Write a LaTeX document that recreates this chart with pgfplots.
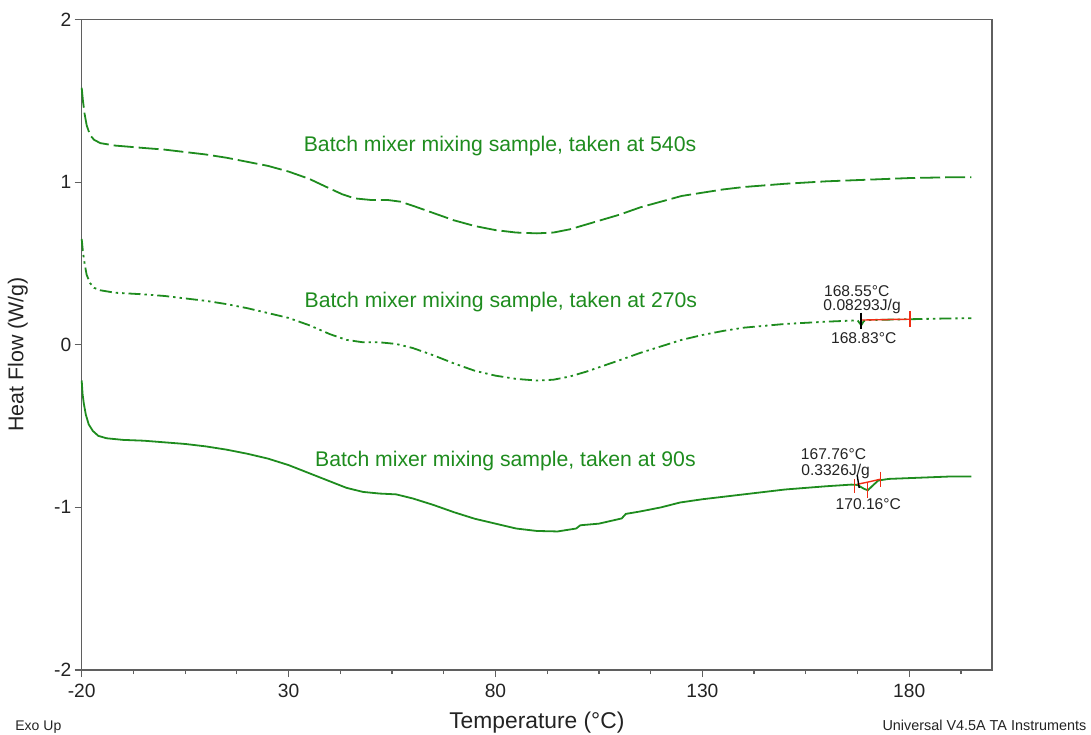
\documentclass[border=0pt]{standalone}
\usepackage{fontspec}
\setmainfont{Liberation Sans}
\usepackage{pgfplots}
\pgfplotsset{compat=1.18}
\definecolor{dscgreen}{RGB}{30,140,30}
\definecolor{axgray}{RGB}{95,95,95}
\definecolor{txt}{RGB}{35,35,35}
\definecolor{tared}{RGB}{240,45,20}
\begin{document}
\begin{tikzpicture}
\useasboundingbox (0,0) rectangle (545.5pt,367pt);
\begin{axis}[
  at={(40.85pt,32pt)}, anchor=south west,
  width=455.15pt, height=325.25pt, scale only axis,
  xmin=-20, xmax=200, ymin=-2, ymax=2,
  xtick={-20,30,80,130,180}, xticklabels={-20,30,80,130,180},
  minor xtick={-7.5,5,17.5,42.5,55,67.5,92.5,105,117.5,142.5,155,167.5,192.5},
  ytick={-2,-1,0,1,2}, yticklabels={-2,-1,0,1,2},
  xtick pos=left, ytick pos=left,
  tick align=outside, major tick length=3.5pt, minor tick length=2pt,
  axis line style={axgray, line width=0.6pt},
  every tick/.style={axgray, line width=0.6pt},
  ticklabel style={font=\fontsize{9.6}{11}\selectfont, text=txt},
  xticklabel style={anchor=base, yshift=-10pt},
  yticklabel style={inner sep=1.5pt},
  xlabel={Temperature (°C)}, ylabel={Heat Flow (W/g)},
  xlabel style={font=\fontsize{11.4}{13}\selectfont, text=txt, at={(axis description cs:0.5,0)}, anchor=base, yshift=-29pt},
  ylabel style={font=\fontsize{10.7}{12}\selectfont, text=txt, at={(axis description cs:0,0.485)}, rotate=0, anchor=base, yshift=29.2pt},
  clip=false,
]
% 540 s
\addplot[dscgreen, line width=0.9pt, dash pattern=on 10pt off 2.5pt] coordinates {
(-20,1.58) (-19.7,1.50) (-19.3,1.42) (-18.8,1.35) (-18,1.29) (-17,1.26) (-15.5,1.24)
(-12,1.225) (-5,1.21) (0,1.20) (5,1.185) (10,1.17) (15,1.15) (20,1.125) (25,1.10)
(30,1.065) (35,1.02) (40,0.96) (43,0.925) (46,0.90) (50,0.89) (54,0.89) (57,0.88)
(60,0.855) (65,0.81) (70,0.765) (75,0.73) (80,0.705) (85,0.69) (90,0.685) (94,0.69)
(98,0.71) (102,0.74) (106,0.77) (110,0.80) (115,0.845) (120,0.88) (125,0.915)
(130,0.935) (135,0.955) (140,0.97) (150,0.99) (160,1.005) (170,1.015) (180,1.025)
(190,1.03) (195,1.03)};
% 270 s
\addplot[dscgreen, line width=0.9pt, dash pattern=on 6pt off 2pt on 1.2pt off 2pt on 1.2pt off 2pt] coordinates {
(-20,0.65) (-19.7,0.57) (-19.3,0.50) (-18.8,0.43) (-18,0.38) (-17,0.35) (-15.5,0.335)
(-12,0.32) (-5,0.31) (0,0.30) (5,0.285) (10,0.27) (15,0.25) (20,0.225) (25,0.195)
(30,0.165) (35,0.12) (40,0.065) (44,0.03) (48,0.015) (52,0.015) (56,0.005) (60,-0.02)
(65,-0.065) (70,-0.115) (75,-0.16) (80,-0.19) (85,-0.21) (90,-0.22) (94,-0.215)
(98,-0.195) (102,-0.165) (106,-0.13) (110,-0.095) (115,-0.05) (120,-0.01) (125,0.03)
(130,0.06) (135,0.085) (140,0.105) (150,0.128) (160,0.142) (167.5,0.15) (168.4,0.12)
(169,0.145) (170,0.152) (180,0.157) (190,0.162) (195,0.163)};
% 90 s
\addplot[dscgreen, line width=0.9pt] coordinates {
(-20,-0.22) (-19.8,-0.30) (-19.5,-0.36) (-19,-0.43) (-18.3,-0.49) (-17.3,-0.53)
(-16,-0.56) (-14,-0.575) (-10,-0.585) (-5,-0.59) (0,-0.60) (5,-0.61) (10,-0.625)
(15,-0.645) (20,-0.67) (25,-0.70) (30,-0.74) (35,-0.79) (40,-0.84) (44,-0.88)
(48,-0.905) (52,-0.915) (56,-0.92) (60,-0.945) (65,-0.985) (70,-1.03) (75,-1.07)
(80,-1.10) (85,-1.13) (90,-1.145) (95,-1.148) (99.5,-1.13) (100.5,-1.11) (105,-1.10)
(110.5,-1.068) (111.5,-1.04) (115,-1.025) (120,-1.0) (124.6,-0.97) (130,-0.95)
(140,-0.92) (150,-0.89) (160,-0.87) (166,-0.86) (167.5,-0.862) (169,-0.885)
(170,-0.895) (171,-0.87) (172.5,-0.835) (175,-0.825) (180,-0.82) (190,-0.81) (195,-0.81)};
% analysis marks, 270 s
\addplot[tared, line width=0.7pt] coordinates {(168.6,0.152) (177,0.156) (180.2,0.157)};
\addplot[tared, line width=0.7pt] coordinates {(180.2,0.209) (180.2,0.111)};
\addplot[black, line width=0.8pt] coordinates {(168.4,0.197) (168.4,0.095)};
% analysis marks, 90 s
\addplot[tared, line width=0.7pt] coordinates {(166.7,-0.827) (166.7,-0.913)};
\addplot[tared, line width=0.7pt] coordinates {(169.9,-0.85) (169.9,-0.94)};
\addplot[tared, line width=0.7pt] coordinates {(173.0,-0.78) (173.0,-0.873)};
\addplot[tared, line width=0.7pt] coordinates {(167.4,-0.858) (169.9,-0.845) (173.0,-0.827)};
\addplot[black, line width=0.7pt] coordinates {(167.4,-0.80) (167.9,-0.88)};
% texts
\node[dscgreen, font=\fontsize{10.6}{12}\selectfont] at (axis cs:81.1,1.225) {Batch mixer mixing sample, taken at 540s};
\node[dscgreen, font=\fontsize{10.6}{12}\selectfont] at (axis cs:81.3,0.265) {Batch mixer mixing sample, taken at 270s};
\node[dscgreen, font=\fontsize{10.6}{12}\selectfont] at (axis cs:82.4,-0.714) {Batch mixer mixing sample, taken at 90s};
\node[txt, font=\fontsize{7.8}{9}\selectfont] at (axis cs:167.3,0.331) {168.55°C};
\node[txt, font=\fontsize{7.8}{9}\selectfont] at (axis cs:168.6,0.236) {0.08293J/g};
\node[txt, font=\fontsize{7.8}{9}\selectfont] at (axis cs:169.0,0.04) {168.83°C};
\node[txt, font=\fontsize{7.8}{9}\selectfont] at (axis cs:161.7,-0.67) {167.76°C};
\node[txt, font=\fontsize{7.8}{9}\selectfont] at (axis cs:162.2,-0.78) {0.3326J/g};
\node[txt, font=\fontsize{7.8}{9}\selectfont] at (axis cs:170.1,-0.98) {170.16°C};
\end{axis}
\node[txt, anchor=base west, inner sep=0, font=\fontsize{7}{8}\selectfont] at (7.5pt,2pt) {Exo Up};
\node[txt, anchor=base east, inner sep=0, font=\fontsize{7.2}{8}\selectfont] at (543.35pt,2pt) {Universal V4.5A TA Instruments};
\end{tikzpicture}
\end{document}
